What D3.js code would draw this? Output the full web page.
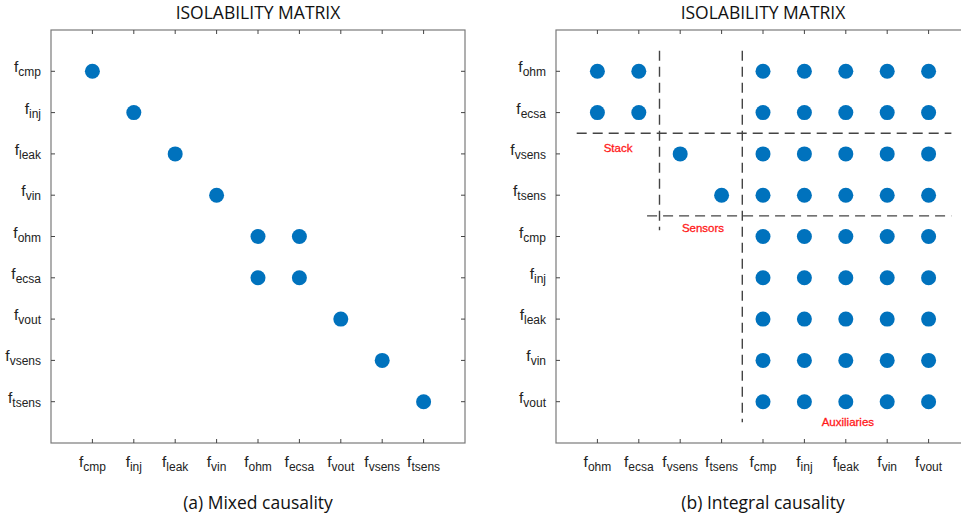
<!DOCTYPE html>
<html>
<head>
<meta charset="utf-8">
<style>
  body { margin: 0; background: #fff; }
  svg { display: block; }
</style>
</head>
<body>
<div id="chart"></div>
<script src="https://d3js.org/d3.v7.min.js"></script>
<script>
// data
var leftCats = ['cmp','inj','leak','vin','ohm','ecsa','vout','vsens','tsens'];
var rightCats = ['ohm','ecsa','vsens','tsens','cmp','inj','leak','vin','vout'];
// isolability pairs [row, col]
var leftPairs = [
  ['cmp','cmp'],['inj','inj'],['leak','leak'],['vin','vin'],
  ['ohm','ohm'],['ohm','ecsa'],['ecsa','ohm'],['ecsa','ecsa'],
  ['vout','vout'],['vsens','vsens'],['tsens','tsens']
];
var auxCats = ['cmp','inj','leak','vin','vout'];
var rightPairs = [];
['ohm','ecsa'].forEach(function(r){
  ['ohm','ecsa'].concat(auxCats).forEach(function(c){ rightPairs.push([r,c]); });
});
['vsens','tsens'].forEach(function(r){
  [r].concat(auxCats).forEach(function(c){ rightPairs.push([r,c]); });
});
auxCats.forEach(function(r){
  auxCats.forEach(function(c){ rightPairs.push([r,c]); });
});
var titles = ['ISOLABILITY MATRIX','ISOLABILITY MATRIX'];
var captions = ['(a) Mixed causality','(b) Integral causality'];
// group separators (in category units) and labels for right panel
var groupLabels = [
  {text:'Stack', col:1.5, row:2.85},
  {text:'Sensors', col:3.55, row:4.8},
  {text:'Auxiliaries', col:7.05, row:9.5}
];

var W = 961, H = 525;
var svg = d3.select('#chart').append('svg').attr('width',W).attr('height',H);

var dotColor = '#0072BD',
    boxColor = '#7a7a7a',
    labelFont = '"Liberation Sans", Arial, sans-serif',
    titleFont = '"Open Sans", "Noto Sans", sans-serif';

function drawPanel(x0, cats, pairs, title, caption){
  var x = d3.scaleLinear().domain([0,10]).range([x0, x0+414]);
  var y = d3.scaleLinear().domain([0,10]).range([30, 443]);
  var g = svg.append('g');

  // box
  g.append('rect')
    .attr('x',x(0)).attr('y',y(0))
    .attr('width',x(10)-x(0)).attr('height',y(10)-y(0))
    .attr('fill','none').attr('stroke',boxColor).attr('stroke-width',1.2);

  var idx = d3.range(1,10);
  // ticks on four sides, inward
  g.selectAll('.tb').data(idx).enter().append('line')
    .attr('x1',function(d){return x(d);}).attr('x2',function(d){return x(d);})
    .attr('y1',y(10)).attr('y2',y(10)-4).attr('stroke','#444');
  g.selectAll('.tt').data(idx).enter().append('line')
    .attr('x1',function(d){return x(d);}).attr('x2',function(d){return x(d);})
    .attr('y1',y(0)).attr('y2',y(0)+4).attr('stroke','#444');
  g.selectAll('.tl').data(idx).enter().append('line')
    .attr('y1',function(d){return y(d);}).attr('y2',function(d){return y(d);})
    .attr('x1',x(0)).attr('x2',x(0)+4).attr('stroke','#444');
  g.selectAll('.tr').data(idx).enter().append('line')
    .attr('y1',function(d){return y(d);}).attr('y2',function(d){return y(d);})
    .attr('x1',x(10)).attr('x2',x(10)-4).attr('stroke','#444');

  // x tick labels
  var xl = g.selectAll('.xl').data(cats).enter().append('text')
    .attr('x',function(d,i){return x(i+1);})
    .attr('y',467)
    .attr('text-anchor','middle')
    .attr('font-family',labelFont).attr('fill','#222');
  xl.append('tspan').attr('font-size',15.5).text('f');
  xl.append('tspan').attr('font-size',12).attr('dy',4).text(function(d){return d;});

  // y tick labels
  var yl = g.selectAll('.yl').data(cats).enter().append('text')
    .attr('x',x(0)-10)
    .attr('y',function(d,i){return y(i+1)+1;})
    .attr('text-anchor','end')
    .attr('font-family',labelFont).attr('fill','#222');
  yl.append('tspan').attr('font-size',15.5).text('f');
  yl.append('tspan').attr('font-size',12).attr('dy',4).text(function(d){return d;});

  // dots
  g.selectAll('circle').data(pairs).enter().append('circle')
    .attr('cx',function(d){return x(cats.indexOf(d[1])+1);})
    .attr('cy',function(d){return y(cats.indexOf(d[0])+1);})
    .attr('r',7.5).attr('fill',dotColor);

  // title and caption
  svg.append('text').attr('x',x(5)).attr('y',19)
    .attr('text-anchor','middle').attr('font-family',titleFont)
    .attr('font-size',17.5).attr('fill','#111').text(title);
  svg.append('text').attr('x',x(5)).attr('y',509)
    .attr('text-anchor','middle').attr('font-family',titleFont)
    .attr('font-size',17.5).attr('fill','#111').text(caption);

  return {g:g, x:x, y:y};
}

drawPanel(51, leftCats, leftPairs, titles[0], captions[0]);
var p = drawPanel(556, rightCats, rightPairs, titles[1], captions[1]);

// dashed separators on right panel
var seps = [
  {x1:2.5, y1:0.5, x2:2.5, y2:4.85},
  {x1:4.5, y1:0.5, x2:4.5, y2:9.5},
  {x1:0.5, y1:2.5, x2:9.55, y2:2.5},
  {x1:2.2, y1:4.5, x2:9.55, y2:4.5}
];
p.g.selectAll('.sep').data(seps).enter().append('line')
  .attr('x1',function(d){return p.x(d.x1);}).attr('x2',function(d){return p.x(d.x2);})
  .attr('y1',function(d){return p.y(d.y1);}).attr('y2',function(d){return p.y(d.y2);})
  .attr('stroke','#444').attr('stroke-width',1.4).attr('stroke-dasharray','10,6');

p.g.selectAll('.grp').data(groupLabels).enter().append('text')
  .attr('x',function(d){return p.x(d.col);})
  .attr('y',function(d){return p.y(d.row)+4;})
  .attr('text-anchor','middle')
  .attr('font-family',labelFont).attr('font-size',11.5)
  .attr('fill','#ff1a1a').attr('stroke','#ff1a1a').attr('stroke-width',0.3)
  .text(function(d){return d.text;});
</script>
</body>
</html>
